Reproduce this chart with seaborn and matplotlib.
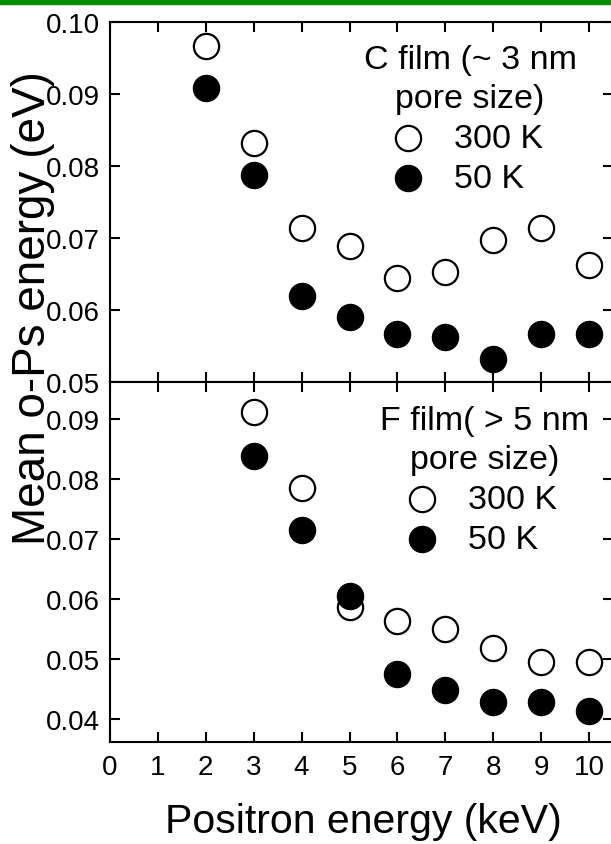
import numpy as np
import pandas as pd
import matplotlib
matplotlib.use("Agg")
import matplotlib.pyplot as plt
import matplotlib.ticker as mticker
from matplotlib.patches import Rectangle
import seaborn as sns

# ---- data ----
energy_c = [2, 3, 4, 5, 6, 7, 8, 9, 10]
c_300K = [0.0967, 0.0832, 0.0714, 0.0689, 0.0644, 0.0653, 0.0697, 0.0714, 0.0662]
c_50K = [0.0908, 0.0787, 0.0619, 0.0590, 0.0567, 0.0562, 0.0532, 0.0567, 0.0567]

energy_f = [3, 4, 5, 6, 7, 8, 9, 10]
f_300K = [0.0912, 0.0785, 0.0587, 0.0563, 0.0550, 0.0518, 0.0495, 0.0495]
f_50K = [0.0838, 0.0715, 0.0605, 0.0475, 0.0448, 0.0428, 0.0428, 0.0413]

x_ticks = [0, 1, 2, 3, 4, 5, 6, 7, 8, 9, 10]
y_ticks_top = [0.05, 0.06, 0.07, 0.08, 0.09, 0.10]
y_ticks_bot = [0.04, 0.05, 0.06, 0.07, 0.08, 0.09]

title_c = "C film (~ 3 nm\npore size)"
title_f = "F film( > 5 nm\npore size)"
series_labels = ["300 K", "50 K"]

# ---- style ----
sns.set_theme(style="ticks")
plt.rcParams["font.family"] = ["Liberation Sans", "DejaVu Sans"]
plt.rcParams["axes.linewidth"] = 1.5
plt.rcParams["text.color"] = "black"
plt.rcParams["axes.labelcolor"] = "black"
plt.rcParams["xtick.color"] = "black"
plt.rcParams["ytick.color"] = "black"

W, H = 611, 845
fig = plt.figure(figsize=(W / 100, H / 100), dpi=100)

left = 110 / W
width = 503 / W
top_top = 1 - 23 / H
mid = 1 - 383 / H
bot = 1 - 743 / H

ax1 = fig.add_axes([left, mid, width, top_top - mid])
ax2 = fig.add_axes([left, bot, width, mid - bot])

df_c = pd.DataFrame({"E": energy_c, "hot": c_300K, "cold": c_50K})
df_f = pd.DataFrame({"E": energy_f, "hot": f_300K, "cold": f_50K})

S = 330
for ax, df in [(ax1, df_c), (ax2, df_f)]:
    sns.scatterplot(data=df, x="E", y="hot", ax=ax, s=S, color="white",
                    edgecolor="black", linewidth=1.6, label=series_labels[0], zorder=3)
    sns.scatterplot(data=df, x="E", y="cold", ax=ax, s=S, color="black",
                    edgecolor="black", linewidth=1.6, label=series_labels[1], zorder=4)
    ax.set_xlim(0, 10.5)
    ax.set_xticks(x_ticks)
    ax.set_xlabel("")
    ax.set_ylabel("")
    ax.tick_params(direction="in", which="both", top=True, right=True,
                   length=7.5, width=1.5, labelsize=20, colors="black")
    ax.tick_params(axis="y", pad=7)
    ax.tick_params(axis="x", pad=9)
    ax.yaxis.set_major_formatter(mticker.FormatStrFormatter("%.2f"))
    for sp in ax.spines.values():
        sp.set_visible(True)
        sp.set_color("black")
        sp.set_linewidth(1.5)

ax1.set_ylim(0.05, 0.10)
ax1.set_yticks(y_ticks_top)
ax1.tick_params(axis="x", labelbottom=False)

ax2.set_ylim(0.0362, 0.0962)
ax2.set_yticks(y_ticks_bot)

leg_kw = dict(frameon=False, fontsize=24.5, title_fontsize=24.5, loc="upper center",
              borderaxespad=0, handlelength=0.6, handletextpad=1.05,
              labelspacing=0.27, borderpad=0.2, markerscale=1.0)
for ax, title, anchor in [(ax1, title_c, (0.716, 0.958)), (ax2, title_f, (0.744, 0.955))]:
    leg = ax.legend(title=title, bbox_to_anchor=anchor, **leg_kw)
    leg.get_title().set_multialignment("center")
    leg.get_title().set_linespacing(1.32)
    for t in leg.get_texts():
        t.set_color("black")
    leg.get_title().set_color("black")

fig.text(363 / W, 1 - 822 / H, "Positron energy (keV)", fontsize=29.5,
         ha="center", va="center", color="black")
fig.text(33 / W, 1 - 308 / H, "Mean o-Ps energy (eV)", fontsize=33,
         ha="center", va="center", rotation=90, color="black")

fig.add_artist(Rectangle((0, 1 - 5 / H), 1, 5 / H, transform=fig.transFigure,
                         color="#008c00", zorder=10))

fig.savefig("out.png", dpi=100)
